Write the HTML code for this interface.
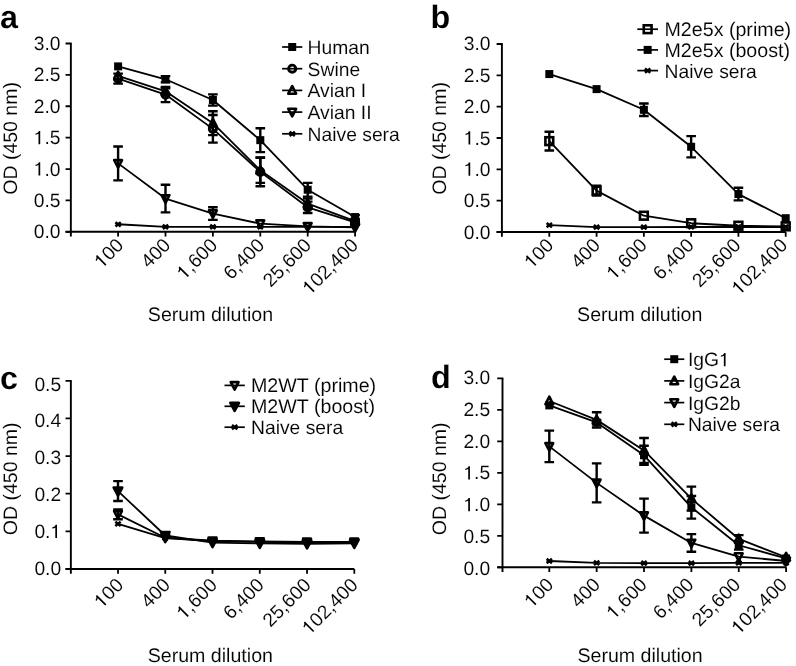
<!DOCTYPE html>
<html><head><meta charset="utf-8"><style>
html,body{margin:0;padding:0;background:#fff;width:796px;height:666px;overflow:hidden}
svg{display:block;will-change:transform}
text{font-family:"Liberation Sans",sans-serif;font-size:19.3px;fill:#000;stroke:#fff;stroke-width:0.1px;text-rendering:geometricPrecision}
</style></head><body>
<svg width="796" height="666" viewBox="0 0 796 666">
<rect width="796" height="666" fill="#fff"/>
<path d="M70.85,43.49 L70.85,236.60 M65.55,231.80 L355.10,231.80" stroke="#000" stroke-width="1.9" fill="none"/>
<text transform="translate(60.50,238.30)" text-anchor="end">0.0</text>
<text transform="translate(60.50,206.92)" text-anchor="end">0.5</text>
<g transform="translate(60.50,175.53)"><text text-anchor="end"> .0</text><path transform="translate(-26.830,0) scale(0.00942,-0.00942)" d="M515,0 L696,0 L696,1409 L548,1409 C500,1250 380,1160 197,1140 L197,1010 C340,1020 450,1060 515,1110 Z" fill="#000"/></g>
<g transform="translate(60.50,144.15)"><text text-anchor="end"> .5</text><path transform="translate(-26.830,0) scale(0.00942,-0.00942)" d="M515,0 L696,0 L696,1409 L548,1409 C500,1250 380,1160 197,1140 L197,1010 C340,1020 450,1060 515,1110 Z" fill="#000"/></g>
<text transform="translate(60.50,112.76)" text-anchor="end">2.0</text>
<text transform="translate(60.50,81.38)" text-anchor="end">2.5</text>
<text transform="translate(60.50,49.99)" text-anchor="end">3.0</text>
<path d="M65.55,231.80 L70.85,231.80 M65.55,200.42 L70.85,200.42 M65.55,169.03 L70.85,169.03 M65.55,137.65 L70.85,137.65 M65.55,106.26 L70.85,106.26 M65.55,74.88 L70.85,74.88 M65.55,43.49 L70.85,43.49 M65.55,43.49 L71.70,43.49 M118.10,231.80 L118.10,236.60 M165.50,231.80 L165.50,236.60 M212.90,231.80 L212.90,236.60 M260.30,231.80 L260.30,236.60 M307.70,231.80 L307.70,236.60 M355.10,231.80 L355.10,236.60" stroke="#000" stroke-width="1.8" fill="none"/>
<g transform="translate(124.60,246.30) rotate(-45)"><text text-anchor="end"> 00</text><path transform="translate(-32.201,0) scale(0.00942,-0.00942)" d="M515,0 L696,0 L696,1409 L548,1409 C500,1250 380,1160 197,1140 L197,1010 C340,1020 450,1060 515,1110 Z" fill="#000"/></g>
<text transform="translate(171.56,246.30) rotate(-45)" text-anchor="end">400</text>
<g transform="translate(218.52,246.30) rotate(-45)"><text text-anchor="end"> ,600</text><path transform="translate(-48.297,0) scale(0.00942,-0.00942)" d="M515,0 L696,0 L696,1409 L548,1409 C500,1250 380,1160 197,1140 L197,1010 C340,1020 450,1060 515,1110 Z" fill="#000"/></g>
<text transform="translate(265.48,246.30) rotate(-45)" text-anchor="end">6,400</text>
<text transform="translate(312.44,246.30) rotate(-45)" text-anchor="end">25,600</text>
<g transform="translate(359.40,246.30) rotate(-45)"><text text-anchor="end"> 02,400</text><path transform="translate(-69.765,0) scale(0.00942,-0.00942)" d="M515,0 L696,0 L696,1409 L548,1409 C500,1250 380,1160 197,1140 L197,1010 C340,1020 450,1060 515,1110 Z" fill="#000"/></g>
<text transform="translate(16.60,138.40) rotate(-90)" text-anchor="middle" style="font-size:19.5px">OD (450 nm)</text>
<text x="210.45" y="321.30" text-anchor="middle" style="font-size:19.6px">Serum dilution</text>
<text x="0.00" y="28.40" style="font-weight:bold;font-size:32.3px">a</text>
<path d="M118.10,66.40 L165.50,79.27 L212.90,99.98 L260.30,140.16 L307.70,189.74 L355.10,217.05" stroke="#000" stroke-width="1.8" fill="none" stroke-linejoin="round"/>
<path d="M118.10,78.64 L165.50,94.58 L212.90,128.86 L260.30,171.85 L307.70,207.32 L355.10,222.38" stroke="#000" stroke-width="1.8" fill="none" stroke-linejoin="round"/>
<path d="M118.10,75.94 L165.50,91.32 L212.90,123.21 L260.30,170.29 L307.70,203.55 L355.10,221.13" stroke="#000" stroke-width="1.8" fill="none" stroke-linejoin="round"/>
<path d="M118.10,163.38 L165.50,198.53 L212.90,213.60 L260.30,223.64 L307.70,226.46 L355.10,227.41" stroke="#000" stroke-width="1.8" fill="none" stroke-linejoin="round"/>
<path d="M118.10,224.27 L165.50,226.78 L212.90,226.78 L260.30,226.78 L307.70,226.78 L355.10,226.78" stroke="#000" stroke-width="1.8" fill="none" stroke-linejoin="round"/>
<path d="M165.50,76.13 L165.50,82.41 M160.70,76.13 L170.30,76.13 M160.70,82.41 L170.30,82.41" stroke="#000" stroke-width="2.4" fill="none"/>
<path d="M212.90,94.33 L212.90,105.63 M208.10,94.33 L217.70,94.33 M208.10,105.63 L217.70,105.63" stroke="#000" stroke-width="2.4" fill="none"/>
<path d="M260.30,128.23 L260.30,152.08 M255.50,128.23 L265.10,128.23 M255.50,152.08 L265.10,152.08" stroke="#000" stroke-width="2.4" fill="none"/>
<path d="M307.70,182.84 L307.70,196.65 M302.90,182.84 L312.50,182.84 M302.90,196.65 L312.50,196.65" stroke="#000" stroke-width="2.4" fill="none"/>
<path d="M355.10,215.17 L355.10,218.93 M350.30,215.17 L359.90,215.17 M350.30,218.93 L359.90,218.93" stroke="#000" stroke-width="2.4" fill="none"/>
<path d="M118.10,73.62 L118.10,83.66 M113.30,73.62 L122.90,73.62 M113.30,83.66 L122.90,83.66" stroke="#000" stroke-width="2.4" fill="none"/>
<path d="M165.50,87.05 L165.50,102.12 M160.70,87.05 L170.30,87.05 M160.70,102.12 L170.30,102.12" stroke="#000" stroke-width="2.4" fill="none"/>
<path d="M212.90,115.05 L212.90,142.67 M208.10,115.05 L217.70,115.05 M208.10,142.67 L217.70,142.67" stroke="#000" stroke-width="2.4" fill="none"/>
<path d="M260.30,157.42 L260.30,186.29 M255.50,157.42 L265.10,157.42 M255.50,186.29 L265.10,186.29" stroke="#000" stroke-width="2.4" fill="none"/>
<path d="M307.70,201.67 L307.70,212.97 M302.90,201.67 L312.50,201.67 M302.90,212.97 L312.50,212.97" stroke="#000" stroke-width="2.4" fill="none"/>
<path d="M355.10,219.87 L355.10,224.90 M350.30,219.87 L359.90,219.87 M350.30,224.90 L359.90,224.90" stroke="#000" stroke-width="2.4" fill="none"/>
<path d="M165.50,88.18 L165.50,94.46 M160.70,88.18 L170.30,88.18 M160.70,94.46 L170.30,94.46" stroke="#000" stroke-width="2.4" fill="none"/>
<path d="M212.90,111.28 L212.90,135.13 M208.10,111.28 L217.70,111.28 M208.10,135.13 L217.70,135.13" stroke="#000" stroke-width="2.4" fill="none"/>
<path d="M260.30,157.73 L260.30,182.84 M255.50,157.73 L265.10,157.73 M255.50,182.84 L265.10,182.84" stroke="#000" stroke-width="2.4" fill="none"/>
<path d="M307.70,198.53 L307.70,208.58 M302.90,198.53 L312.50,198.53 M302.90,208.58 L312.50,208.58" stroke="#000" stroke-width="2.4" fill="none"/>
<path d="M355.10,219.87 L355.10,222.38 M350.30,219.87 L359.90,219.87 M350.30,222.38 L359.90,222.38" stroke="#000" stroke-width="2.4" fill="none"/>
<path d="M118.10,146.43 L118.10,180.33 M113.30,146.43 L122.90,146.43 M113.30,180.33 L122.90,180.33" stroke="#000" stroke-width="2.4" fill="none"/>
<path d="M165.50,184.72 L165.50,212.34 M160.70,184.72 L170.30,184.72 M160.70,212.34 L170.30,212.34" stroke="#000" stroke-width="2.4" fill="none"/>
<path d="M212.90,207.32 L212.90,219.87 M208.10,207.32 L217.70,207.32 M208.10,219.87 L217.70,219.87" stroke="#000" stroke-width="2.4" fill="none"/>
<rect x="114.10" y="62.40" width="8.00" height="8.00" fill="#000"/>
<rect x="161.50" y="75.27" width="8.00" height="8.00" fill="#000"/>
<rect x="208.90" y="95.98" width="8.00" height="8.00" fill="#000"/>
<rect x="256.30" y="136.16" width="8.00" height="8.00" fill="#000"/>
<rect x="303.70" y="185.74" width="8.00" height="8.00" fill="#000"/>
<rect x="351.10" y="213.05" width="8.00" height="8.00" fill="#000"/>
<circle cx="118.10" cy="78.64" r="3.6" fill="none" stroke="#000" stroke-width="2.9"/>
<circle cx="165.50" cy="94.58" r="3.6" fill="none" stroke="#000" stroke-width="2.9"/>
<circle cx="212.90" cy="128.86" r="3.6" fill="none" stroke="#000" stroke-width="2.9"/>
<circle cx="260.30" cy="171.85" r="3.6" fill="none" stroke="#000" stroke-width="2.9"/>
<circle cx="307.70" cy="207.32" r="3.6" fill="none" stroke="#000" stroke-width="2.9"/>
<circle cx="355.10" cy="222.38" r="3.6" fill="none" stroke="#000" stroke-width="2.9"/>
<path d="M118.10,71.64 L122.00,79.24 L114.20,79.24 Z" fill="none" stroke="#000" stroke-width="2.6" stroke-linejoin="round"/>
<path d="M165.50,87.02 L169.40,94.62 L161.60,94.62 Z" fill="none" stroke="#000" stroke-width="2.6" stroke-linejoin="round"/>
<path d="M212.90,118.91 L216.80,126.51 L209.00,126.51 Z" fill="none" stroke="#000" stroke-width="2.6" stroke-linejoin="round"/>
<path d="M260.30,165.99 L264.20,173.59 L256.40,173.59 Z" fill="none" stroke="#000" stroke-width="2.6" stroke-linejoin="round"/>
<path d="M307.70,199.25 L311.60,206.85 L303.80,206.85 Z" fill="none" stroke="#000" stroke-width="2.6" stroke-linejoin="round"/>
<path d="M355.10,216.83 L359.00,224.43 L351.20,224.43 Z" fill="none" stroke="#000" stroke-width="2.6" stroke-linejoin="round"/>
<path d="M118.10,167.68 L122.00,160.08 L114.20,160.08 Z" fill="none" stroke="#000" stroke-width="2.6" stroke-linejoin="round"/>
<path d="M165.50,202.83 L169.40,195.23 L161.60,195.23 Z" fill="none" stroke="#000" stroke-width="2.6" stroke-linejoin="round"/>
<path d="M212.90,217.90 L216.80,210.30 L209.00,210.30 Z" fill="none" stroke="#000" stroke-width="2.6" stroke-linejoin="round"/>
<path d="M260.30,227.94 L264.20,220.34 L256.40,220.34 Z" fill="none" stroke="#000" stroke-width="2.6" stroke-linejoin="round"/>
<path d="M307.70,230.76 L311.60,223.16 L303.80,223.16 Z" fill="none" stroke="#000" stroke-width="2.6" stroke-linejoin="round"/>
<path d="M355.10,231.71 L359.00,224.11 L351.20,224.11 Z" fill="none" stroke="#000" stroke-width="2.6" stroke-linejoin="round"/>
<path d="M115.40,222.17 L120.80,226.37 M120.80,222.17 L115.40,226.37" stroke="#000" stroke-width="2.6" fill="none"/>
<path d="M162.80,224.68 L168.20,228.88 M168.20,224.68 L162.80,228.88" stroke="#000" stroke-width="2.6" fill="none"/>
<path d="M210.20,224.68 L215.60,228.88 M215.60,224.68 L210.20,228.88" stroke="#000" stroke-width="2.6" fill="none"/>
<path d="M257.60,224.68 L263.00,228.88 M263.00,224.68 L257.60,228.88" stroke="#000" stroke-width="2.6" fill="none"/>
<path d="M305.00,224.68 L310.40,228.88 M310.40,224.68 L305.00,228.88" stroke="#000" stroke-width="2.6" fill="none"/>
<path d="M352.40,224.68 L357.80,228.88 M357.80,224.68 L352.40,228.88" stroke="#000" stroke-width="2.6" fill="none"/>
<path d="M282.10,47.00 L302.30,47.00" stroke="#000" stroke-width="1.7"/>
<rect x="288.20" y="43.00" width="8.00" height="8.00" fill="#000"/>
<text transform="translate(307.60,54.00)" text-anchor="start">Human</text>
<path d="M282.10,68.70 L302.30,68.70" stroke="#000" stroke-width="1.7"/>
<circle cx="292.20" cy="68.70" r="3.6" fill="none" stroke="#000" stroke-width="2.9"/>
<text transform="translate(307.60,75.70)" text-anchor="start">Swine</text>
<path d="M282.10,90.40 L302.30,90.40" stroke="#000" stroke-width="1.7"/>
<path d="M292.20,86.10 L296.10,93.70 L288.30,93.70 Z" fill="none" stroke="#000" stroke-width="2.6" stroke-linejoin="round"/>
<text transform="translate(307.60,97.40)" text-anchor="start">Avian I</text>
<path d="M282.10,112.10 L302.30,112.10" stroke="#000" stroke-width="1.7"/>
<path d="M292.20,116.40 L296.10,108.80 L288.30,108.80 Z" fill="none" stroke="#000" stroke-width="2.6" stroke-linejoin="round"/>
<text transform="translate(307.60,119.10)" text-anchor="start">Avian II</text>
<path d="M282.10,133.80 L302.30,133.80" stroke="#000" stroke-width="1.7"/>
<path d="M289.50,131.70 L294.90,135.90 M294.90,131.70 L289.50,135.90" stroke="#000" stroke-width="2.6" fill="none"/>
<text transform="translate(307.60,140.80)" text-anchor="start">Naive sera</text>
<path d="M501.90,43.99 L501.90,236.80 M496.60,232.00 L785.70,232.00" stroke="#000" stroke-width="1.9" fill="none"/>
<text transform="translate(490.50,238.50)" text-anchor="end">0.0</text>
<text transform="translate(490.50,207.16)" text-anchor="end">0.5</text>
<g transform="translate(490.50,175.83)"><text text-anchor="end"> .0</text><path transform="translate(-26.830,0) scale(0.00942,-0.00942)" d="M515,0 L696,0 L696,1409 L548,1409 C500,1250 380,1160 197,1140 L197,1010 C340,1020 450,1060 515,1110 Z" fill="#000"/></g>
<g transform="translate(490.50,144.50)"><text text-anchor="end"> .5</text><path transform="translate(-26.830,0) scale(0.00942,-0.00942)" d="M515,0 L696,0 L696,1409 L548,1409 C500,1250 380,1160 197,1140 L197,1010 C340,1020 450,1060 515,1110 Z" fill="#000"/></g>
<text transform="translate(490.50,113.16)" text-anchor="end">2.0</text>
<text transform="translate(490.50,81.82)" text-anchor="end">2.5</text>
<text transform="translate(490.50,50.49)" text-anchor="end">3.0</text>
<path d="M496.60,232.00 L501.90,232.00 M496.60,200.66 L501.90,200.66 M496.60,169.33 L501.90,169.33 M496.60,138.00 L501.90,138.00 M496.60,106.66 L501.90,106.66 M496.60,75.32 L501.90,75.32 M496.60,43.99 L501.90,43.99 M496.60,43.99 L502.75,43.99 M549.30,232.00 L549.30,236.80 M596.58,232.00 L596.58,236.80 M643.86,232.00 L643.86,236.80 M691.14,232.00 L691.14,236.80 M738.42,232.00 L738.42,236.80 M785.70,232.00 L785.70,236.80" stroke="#000" stroke-width="1.8" fill="none"/>
<g transform="translate(554.60,246.50) rotate(-45)"><text text-anchor="end"> 00</text><path transform="translate(-32.201,0) scale(0.00942,-0.00942)" d="M515,0 L696,0 L696,1409 L548,1409 C500,1250 380,1160 197,1140 L197,1010 C340,1020 450,1060 515,1110 Z" fill="#000"/></g>
<text transform="translate(601.40,246.50) rotate(-45)" text-anchor="end">400</text>
<g transform="translate(648.20,246.50) rotate(-45)"><text text-anchor="end"> ,600</text><path transform="translate(-48.297,0) scale(0.00942,-0.00942)" d="M515,0 L696,0 L696,1409 L548,1409 C500,1250 380,1160 197,1140 L197,1010 C340,1020 450,1060 515,1110 Z" fill="#000"/></g>
<text transform="translate(695.00,246.50) rotate(-45)" text-anchor="end">6,400</text>
<text transform="translate(741.80,246.50) rotate(-45)" text-anchor="end">25,600</text>
<g transform="translate(788.60,246.50) rotate(-45)"><text text-anchor="end"> 02,400</text><path transform="translate(-69.765,0) scale(0.00942,-0.00942)" d="M515,0 L696,0 L696,1409 L548,1409 C500,1250 380,1160 197,1140 L197,1010 C340,1020 450,1060 515,1110 Z" fill="#000"/></g>
<text transform="translate(446.00,138.40) rotate(-90)" text-anchor="middle" style="font-size:19.5px">OD (450 nm)</text>
<text x="639.70" y="321.30" text-anchor="middle" style="font-size:19.6px">Serum dilution</text>
<text x="430.40" y="28.20" style="font-weight:bold;font-size:32.3px">b</text>
<path d="M549.30,74.07 L596.58,89.11 L643.86,109.79 L691.14,146.77 L738.42,194.08 L785.70,218.21" stroke="#000" stroke-width="1.8" fill="none" stroke-linejoin="round"/>
<path d="M549.30,141.13 L596.58,190.64 L643.86,215.71 L691.14,223.23 L738.42,225.73 L785.70,226.36" stroke="#000" stroke-width="1.8" fill="none" stroke-linejoin="round"/>
<path d="M549.30,225.11 L596.58,227.17 L643.86,227.17 L691.14,226.99 L738.42,226.99 L785.70,226.99" stroke="#000" stroke-width="1.8" fill="none" stroke-linejoin="round"/>
<path d="M643.86,103.53 L643.86,116.06 M639.06,103.53 L648.66,103.53 M639.06,116.06 L648.66,116.06" stroke="#000" stroke-width="2.4" fill="none"/>
<path d="M691.14,136.11 L691.14,157.42 M686.34,136.11 L695.94,136.11 M686.34,157.42 L695.94,157.42" stroke="#000" stroke-width="2.4" fill="none"/>
<path d="M738.42,187.82 L738.42,200.35 M733.62,187.82 L743.22,187.82 M733.62,200.35 L743.22,200.35" stroke="#000" stroke-width="2.4" fill="none"/>
<path d="M549.30,131.73 L549.30,150.53 M544.50,131.73 L554.10,131.73 M544.50,150.53 L554.10,150.53" stroke="#000" stroke-width="2.4" fill="none"/>
<path d="M596.58,185.62 L596.58,195.65 M591.78,185.62 L601.38,185.62 M591.78,195.65 L601.38,195.65" stroke="#000" stroke-width="2.4" fill="none"/>
<rect x="545.30" y="70.07" width="8.00" height="8.00" fill="#000"/>
<rect x="592.58" y="85.11" width="8.00" height="8.00" fill="#000"/>
<rect x="639.86" y="105.79" width="8.00" height="8.00" fill="#000"/>
<rect x="687.14" y="142.77" width="8.00" height="8.00" fill="#000"/>
<rect x="734.42" y="190.08" width="8.00" height="8.00" fill="#000"/>
<rect x="781.70" y="214.21" width="8.00" height="8.00" fill="#000"/>
<rect x="545.40" y="137.23" width="7.80" height="7.80" fill="none" stroke="#000" stroke-width="2.6"/>
<rect x="592.68" y="186.74" width="7.80" height="7.80" fill="none" stroke="#000" stroke-width="2.6"/>
<rect x="639.96" y="211.81" width="7.80" height="7.80" fill="none" stroke="#000" stroke-width="2.6"/>
<rect x="687.24" y="219.33" width="7.80" height="7.80" fill="none" stroke="#000" stroke-width="2.6"/>
<rect x="734.52" y="221.83" width="7.80" height="7.80" fill="none" stroke="#000" stroke-width="2.6"/>
<rect x="781.80" y="222.46" width="7.80" height="7.80" fill="none" stroke="#000" stroke-width="2.6"/>
<path d="M546.60,223.01 L552.00,227.21 M552.00,223.01 L546.60,227.21" stroke="#000" stroke-width="2.6" fill="none"/>
<path d="M593.88,225.07 L599.28,229.27 M599.28,225.07 L593.88,229.27" stroke="#000" stroke-width="2.6" fill="none"/>
<path d="M641.16,225.07 L646.56,229.27 M646.56,225.07 L641.16,229.27" stroke="#000" stroke-width="2.6" fill="none"/>
<path d="M688.44,224.89 L693.84,229.09 M693.84,224.89 L688.44,229.09" stroke="#000" stroke-width="2.6" fill="none"/>
<path d="M735.72,224.89 L741.12,229.09 M741.12,224.89 L735.72,229.09" stroke="#000" stroke-width="2.6" fill="none"/>
<path d="M783.00,224.89 L788.40,229.09 M788.40,224.89 L783.00,229.09" stroke="#000" stroke-width="2.6" fill="none"/>
<path d="M637.30,29.20 L658.00,29.20" stroke="#000" stroke-width="1.7"/>
<rect x="643.75" y="25.30" width="7.80" height="7.80" fill="none" stroke="#000" stroke-width="2.6"/>
<text transform="translate(664.50,36.20)" text-anchor="start" style="font-size:19.65px">M2e5x (prime)</text>
<path d="M637.30,49.90 L658.00,49.90" stroke="#000" stroke-width="1.7"/>
<rect x="643.65" y="45.90" width="8.00" height="8.00" fill="#000"/>
<text transform="translate(664.50,56.90)" text-anchor="start" style="font-size:19.65px">M2e5x (boost)</text>
<path d="M637.30,70.60 L658.00,70.60" stroke="#000" stroke-width="1.7"/>
<path d="M644.95,68.50 L650.35,72.70 M650.35,68.50 L644.95,72.70" stroke="#000" stroke-width="2.6" fill="none"/>
<text transform="translate(664.50,77.60)" text-anchor="start">Naive sera</text>
<path d="M70.85,380.80 L70.85,573.80 M65.55,569.00 L354.30,569.00" stroke="#000" stroke-width="1.9" fill="none"/>
<text transform="translate(61.20,575.00)" text-anchor="end">0.0</text>
<g transform="translate(61.20,538.10)"><text text-anchor="end">0. </text><path transform="translate(-10.734,0) scale(0.00942,-0.00942)" d="M515,0 L696,0 L696,1409 L548,1409 C500,1250 380,1160 197,1140 L197,1010 C340,1020 450,1060 515,1110 Z" fill="#000"/></g>
<text transform="translate(61.20,501.20)" text-anchor="end">0.2</text>
<text transform="translate(61.20,464.30)" text-anchor="end">0.3</text>
<text transform="translate(61.20,427.40)" text-anchor="end">0.4</text>
<text transform="translate(61.20,390.50)" text-anchor="end">0.5</text>
<path d="M65.55,569.00 L70.85,569.00 M65.55,531.36 L70.85,531.36 M65.55,493.72 L70.85,493.72 M65.55,456.08 L70.85,456.08 M65.55,418.44 L70.85,418.44 M65.55,380.80 L70.85,380.80 M65.55,380.80 L71.70,380.80 M118.00,569.00 L118.00,573.80 M165.26,569.00 L165.26,573.80 M212.52,569.00 L212.52,573.80 M259.78,569.00 L259.78,573.80 M307.04,569.00 L307.04,573.80 M354.30,569.00 L354.30,573.80" stroke="#000" stroke-width="1.8" fill="none"/>
<g transform="translate(124.50,586.20) rotate(-45)"><text text-anchor="end"> 00</text><path transform="translate(-32.201,0) scale(0.00942,-0.00942)" d="M515,0 L696,0 L696,1409 L548,1409 C500,1250 380,1160 197,1140 L197,1010 C340,1020 450,1060 515,1110 Z" fill="#000"/></g>
<text transform="translate(171.40,586.20) rotate(-45)" text-anchor="end">400</text>
<g transform="translate(218.30,586.20) rotate(-45)"><text text-anchor="end"> ,600</text><path transform="translate(-48.297,0) scale(0.00942,-0.00942)" d="M515,0 L696,0 L696,1409 L548,1409 C500,1250 380,1160 197,1140 L197,1010 C340,1020 450,1060 515,1110 Z" fill="#000"/></g>
<text transform="translate(265.20,586.20) rotate(-45)" text-anchor="end">6,400</text>
<text transform="translate(312.10,586.20) rotate(-45)" text-anchor="end">25,600</text>
<g transform="translate(359.00,586.20) rotate(-45)"><text text-anchor="end"> 02,400</text><path transform="translate(-69.765,0) scale(0.00942,-0.00942)" d="M515,0 L696,0 L696,1409 L548,1409 C500,1250 380,1160 197,1140 L197,1010 C340,1020 450,1060 515,1110 Z" fill="#000"/></g>
<text transform="translate(16.60,478.80) rotate(-90)" text-anchor="middle" style="font-size:19.5px">OD (450 nm)</text>
<text x="210.35" y="661.70" text-anchor="middle" style="font-size:19.6px">Serum dilution</text>
<text x="0.00" y="388.60" style="font-weight:bold;font-size:32.3px">c</text>
<path d="M118.00,514.42 L165.26,537.76 L212.52,540.77 L259.78,541.52 L307.04,541.90 L354.30,541.90" stroke="#000" stroke-width="1.8" fill="none" stroke-linejoin="round"/>
<path d="M118.00,491.09 L165.26,535.50 L212.52,542.65 L259.78,543.40 L307.04,543.78 L354.30,543.40" stroke="#000" stroke-width="1.8" fill="none" stroke-linejoin="round"/>
<path d="M118.00,523.83 L165.26,538.14 L212.52,541.15 L259.78,541.90 L307.04,542.65 L354.30,542.65" stroke="#000" stroke-width="1.8" fill="none" stroke-linejoin="round"/>
<path d="M118.00,509.53 L118.00,519.32 M113.20,509.53 L122.80,509.53 M113.20,519.32 L122.80,519.32" stroke="#000" stroke-width="2.4" fill="none"/>
<path d="M118.00,481.11 L118.00,501.06 M113.20,481.11 L122.80,481.11 M113.20,501.06 L122.80,501.06" stroke="#000" stroke-width="2.4" fill="none"/>
<path d="M118.00,518.72 L121.90,511.12 L114.10,511.12 Z" fill="none" stroke="#000" stroke-width="2.6" stroke-linejoin="round"/>
<path d="M165.26,542.06 L169.16,534.46 L161.36,534.46 Z" fill="none" stroke="#000" stroke-width="2.6" stroke-linejoin="round"/>
<path d="M212.52,545.07 L216.42,537.47 L208.62,537.47 Z" fill="none" stroke="#000" stroke-width="2.6" stroke-linejoin="round"/>
<path d="M259.78,545.82 L263.68,538.22 L255.88,538.22 Z" fill="none" stroke="#000" stroke-width="2.6" stroke-linejoin="round"/>
<path d="M307.04,546.20 L310.94,538.60 L303.14,538.60 Z" fill="none" stroke="#000" stroke-width="2.6" stroke-linejoin="round"/>
<path d="M354.30,546.20 L358.20,538.60 L350.40,538.60 Z" fill="none" stroke="#000" stroke-width="2.6" stroke-linejoin="round"/>
<path d="M118.00,495.69 L122.30,487.59 L113.70,487.59 Z" fill="#000" stroke="#000" stroke-width="2.6" stroke-linejoin="round"/>
<path d="M165.26,540.10 L169.56,532.00 L160.96,532.00 Z" fill="#000" stroke="#000" stroke-width="2.6" stroke-linejoin="round"/>
<path d="M212.52,547.25 L216.82,539.15 L208.22,539.15 Z" fill="#000" stroke="#000" stroke-width="2.6" stroke-linejoin="round"/>
<path d="M259.78,548.00 L264.08,539.90 L255.48,539.90 Z" fill="#000" stroke="#000" stroke-width="2.6" stroke-linejoin="round"/>
<path d="M307.04,548.38 L311.34,540.28 L302.74,540.28 Z" fill="#000" stroke="#000" stroke-width="2.6" stroke-linejoin="round"/>
<path d="M354.30,548.00 L358.60,539.90 L350.00,539.90 Z" fill="#000" stroke="#000" stroke-width="2.6" stroke-linejoin="round"/>
<path d="M115.30,521.73 L120.70,525.93 M120.70,521.73 L115.30,525.93" stroke="#000" stroke-width="2.6" fill="none"/>
<path d="M162.56,536.04 L167.96,540.24 M167.96,536.04 L162.56,540.24" stroke="#000" stroke-width="2.6" fill="none"/>
<path d="M209.82,539.05 L215.22,543.25 M215.22,539.05 L209.82,543.25" stroke="#000" stroke-width="2.6" fill="none"/>
<path d="M257.08,539.80 L262.48,544.00 M262.48,539.80 L257.08,544.00" stroke="#000" stroke-width="2.6" fill="none"/>
<path d="M304.34,540.55 L309.74,544.75 M309.74,540.55 L304.34,544.75" stroke="#000" stroke-width="2.6" fill="none"/>
<path d="M351.60,540.55 L357.00,544.75 M357.00,540.55 L351.60,544.75" stroke="#000" stroke-width="2.6" fill="none"/>
<path d="M224.50,385.40 L244.80,385.40" stroke="#000" stroke-width="1.7"/>
<path d="M234.65,389.70 L238.55,382.10 L230.75,382.10 Z" fill="none" stroke="#000" stroke-width="2.6" stroke-linejoin="round"/>
<text transform="translate(251.00,392.40)" text-anchor="start" style="font-size:19.65px">M2WT (prime)</text>
<path d="M224.50,406.30 L244.80,406.30" stroke="#000" stroke-width="1.7"/>
<path d="M234.65,410.90 L238.95,402.80 L230.35,402.80 Z" fill="#000" stroke="#000" stroke-width="2.6" stroke-linejoin="round"/>
<text transform="translate(251.00,413.30)" text-anchor="start" style="font-size:19.65px">M2WT (boost)</text>
<path d="M224.50,427.20 L244.80,427.20" stroke="#000" stroke-width="1.7"/>
<path d="M231.95,425.10 L237.35,429.30 M237.35,425.10 L231.95,429.30" stroke="#000" stroke-width="2.6" fill="none"/>
<text transform="translate(251.00,434.20)" text-anchor="start">Naive sera</text>
<path d="M502.50,378.30 L502.50,572.10 M497.20,567.30 L786.10,567.30" stroke="#000" stroke-width="1.9" fill="none"/>
<text transform="translate(490.20,574.60)" text-anchor="end">0.0</text>
<text transform="translate(490.20,542.88)" text-anchor="end">0.5</text>
<g transform="translate(490.20,511.16)"><text text-anchor="end"> .0</text><path transform="translate(-26.830,0) scale(0.00942,-0.00942)" d="M515,0 L696,0 L696,1409 L548,1409 C500,1250 380,1160 197,1140 L197,1010 C340,1020 450,1060 515,1110 Z" fill="#000"/></g>
<g transform="translate(490.20,479.44)"><text text-anchor="end"> .5</text><path transform="translate(-26.830,0) scale(0.00942,-0.00942)" d="M515,0 L696,0 L696,1409 L548,1409 C500,1250 380,1160 197,1140 L197,1010 C340,1020 450,1060 515,1110 Z" fill="#000"/></g>
<text transform="translate(490.20,447.72)" text-anchor="end">2.0</text>
<text transform="translate(490.20,416.00)" text-anchor="end">2.5</text>
<text transform="translate(490.20,384.28)" text-anchor="end">3.0</text>
<path d="M497.20,567.30 L502.50,567.30 M497.20,535.80 L502.50,535.80 M497.20,504.30 L502.50,504.30 M497.20,472.80 L502.50,472.80 M497.20,441.30 L502.50,441.30 M497.20,409.80 L502.50,409.80 M497.20,378.30 L502.50,378.30 M497.20,378.30 L503.35,378.30 M549.30,567.30 L549.30,572.10 M596.66,567.30 L596.66,572.10 M644.02,567.30 L644.02,572.10 M691.38,567.30 L691.38,572.10 M738.74,567.30 L738.74,572.10 M786.10,567.30 L786.10,572.10" stroke="#000" stroke-width="1.8" fill="none"/>
<g transform="translate(554.60,585.90) rotate(-45)"><text text-anchor="end"> 00</text><path transform="translate(-32.201,0) scale(0.00942,-0.00942)" d="M515,0 L696,0 L696,1409 L548,1409 C500,1250 380,1160 197,1140 L197,1010 C340,1020 450,1060 515,1110 Z" fill="#000"/></g>
<text transform="translate(601.34,585.90) rotate(-45)" text-anchor="end">400</text>
<g transform="translate(648.08,585.90) rotate(-45)"><text text-anchor="end"> ,600</text><path transform="translate(-48.297,0) scale(0.00942,-0.00942)" d="M515,0 L696,0 L696,1409 L548,1409 C500,1250 380,1160 197,1140 L197,1010 C340,1020 450,1060 515,1110 Z" fill="#000"/></g>
<text transform="translate(694.82,585.90) rotate(-45)" text-anchor="end">6,400</text>
<text transform="translate(741.56,585.90) rotate(-45)" text-anchor="end">25,600</text>
<g transform="translate(788.30,585.90) rotate(-45)"><text text-anchor="end"> 02,400</text><path transform="translate(-69.765,0) scale(0.00942,-0.00942)" d="M515,0 L696,0 L696,1409 L548,1409 C500,1250 380,1160 197,1140 L197,1010 C340,1020 450,1060 515,1110 Z" fill="#000"/></g>
<text transform="translate(446.00,478.80) rotate(-90)" text-anchor="middle" style="font-size:19.5px">OD (450 nm)</text>
<text x="640.05" y="662.20" text-anchor="middle" style="font-size:19.6px">Serum dilution</text>
<text x="431.00" y="388.20" style="font-weight:bold;font-size:32.3px">d</text>
<path d="M549.30,405.39 L596.66,422.40 L644.02,455.29 L691.38,507.32 L738.74,545.25 L786.10,558.48" stroke="#000" stroke-width="1.8" fill="none" stroke-linejoin="round"/>
<path d="M549.30,400.98 L596.66,419.88 L644.02,450.43 L691.38,498.63 L738.74,538.95 L786.10,557.22" stroke="#000" stroke-width="1.8" fill="none" stroke-linejoin="round"/>
<path d="M549.30,446.34 L596.66,482.88 L644.02,515.64 L691.38,542.98 L738.74,556.59 L786.10,561.00" stroke="#000" stroke-width="1.8" fill="none" stroke-linejoin="round"/>
<path d="M549.30,561.00 L596.66,562.89 L644.02,563.20 L691.38,563.20 L738.74,562.89 L786.10,562.89" stroke="#000" stroke-width="1.8" fill="none" stroke-linejoin="round"/>
<path d="M596.66,420.51 L596.66,424.29 M591.86,420.51 L601.46,420.51 M591.86,424.29 L601.46,424.29" stroke="#000" stroke-width="2.4" fill="none"/>
<path d="M644.02,445.71 L644.02,464.86 M639.22,445.71 L648.82,445.71 M639.22,464.86 L648.82,464.86" stroke="#000" stroke-width="2.4" fill="none"/>
<path d="M691.38,495.98 L691.38,518.66 M686.58,495.98 L696.18,495.98 M686.58,518.66 L696.18,518.66" stroke="#000" stroke-width="2.4" fill="none"/>
<path d="M738.74,540.84 L738.74,549.66 M733.94,540.84 L743.54,540.84 M733.94,549.66 L743.54,549.66" stroke="#000" stroke-width="2.4" fill="none"/>
<path d="M596.66,412.32 L596.66,427.44 M591.86,412.32 L601.46,412.32 M591.86,427.44 L601.46,427.44" stroke="#000" stroke-width="2.4" fill="none"/>
<path d="M644.02,438.02 L644.02,462.85 M639.22,438.02 L648.82,438.02 M639.22,462.85 L648.82,462.85" stroke="#000" stroke-width="2.4" fill="none"/>
<path d="M691.38,486.66 L691.38,510.60 M686.58,486.66 L696.18,486.66 M686.58,510.60 L696.18,510.60" stroke="#000" stroke-width="2.4" fill="none"/>
<path d="M738.74,535.17 L738.74,542.73 M733.94,535.17 L743.54,535.17 M733.94,542.73 L743.54,542.73" stroke="#000" stroke-width="2.4" fill="none"/>
<path d="M549.30,430.59 L549.30,462.09 M544.50,430.59 L554.10,430.59 M544.50,462.09 L554.10,462.09" stroke="#000" stroke-width="2.4" fill="none"/>
<path d="M596.66,463.35 L596.66,502.41 M591.86,463.35 L601.46,463.35 M591.86,502.41 L601.46,502.41" stroke="#000" stroke-width="2.4" fill="none"/>
<path d="M644.02,498.63 L644.02,532.65 M639.22,498.63 L648.82,498.63 M639.22,532.65 L648.82,532.65" stroke="#000" stroke-width="2.4" fill="none"/>
<path d="M691.38,534.16 L691.38,551.80 M686.58,534.16 L696.18,534.16 M686.58,551.80 L696.18,551.80" stroke="#000" stroke-width="2.4" fill="none"/>
<rect x="545.30" y="401.39" width="8.00" height="8.00" fill="#000"/>
<rect x="592.66" y="418.40" width="8.00" height="8.00" fill="#000"/>
<rect x="640.02" y="451.29" width="8.00" height="8.00" fill="#000"/>
<rect x="687.38" y="503.32" width="8.00" height="8.00" fill="#000"/>
<rect x="734.74" y="541.25" width="8.00" height="8.00" fill="#000"/>
<rect x="782.10" y="554.48" width="8.00" height="8.00" fill="#000"/>
<path d="M549.30,396.68 L553.20,404.28 L545.40,404.28 Z" fill="none" stroke="#000" stroke-width="2.6" stroke-linejoin="round"/>
<path d="M596.66,415.58 L600.56,423.18 L592.76,423.18 Z" fill="none" stroke="#000" stroke-width="2.6" stroke-linejoin="round"/>
<path d="M644.02,446.13 L647.92,453.73 L640.12,453.73 Z" fill="none" stroke="#000" stroke-width="2.6" stroke-linejoin="round"/>
<path d="M691.38,494.33 L695.28,501.93 L687.48,501.93 Z" fill="none" stroke="#000" stroke-width="2.6" stroke-linejoin="round"/>
<path d="M738.74,534.65 L742.64,542.25 L734.84,542.25 Z" fill="none" stroke="#000" stroke-width="2.6" stroke-linejoin="round"/>
<path d="M786.10,552.92 L790.00,560.52 L782.20,560.52 Z" fill="none" stroke="#000" stroke-width="2.6" stroke-linejoin="round"/>
<path d="M549.30,450.64 L553.20,443.04 L545.40,443.04 Z" fill="none" stroke="#000" stroke-width="2.6" stroke-linejoin="round"/>
<path d="M596.66,487.18 L600.56,479.58 L592.76,479.58 Z" fill="none" stroke="#000" stroke-width="2.6" stroke-linejoin="round"/>
<path d="M644.02,519.94 L647.92,512.34 L640.12,512.34 Z" fill="none" stroke="#000" stroke-width="2.6" stroke-linejoin="round"/>
<path d="M691.38,547.28 L695.28,539.68 L687.48,539.68 Z" fill="none" stroke="#000" stroke-width="2.6" stroke-linejoin="round"/>
<path d="M738.74,560.89 L742.64,553.29 L734.84,553.29 Z" fill="none" stroke="#000" stroke-width="2.6" stroke-linejoin="round"/>
<path d="M786.10,565.30 L790.00,557.70 L782.20,557.70 Z" fill="none" stroke="#000" stroke-width="2.6" stroke-linejoin="round"/>
<path d="M546.60,558.90 L552.00,563.10 M552.00,558.90 L546.60,563.10" stroke="#000" stroke-width="2.6" fill="none"/>
<path d="M593.96,560.79 L599.36,564.99 M599.36,560.79 L593.96,564.99" stroke="#000" stroke-width="2.6" fill="none"/>
<path d="M641.32,561.10 L646.72,565.30 M646.72,561.10 L641.32,565.30" stroke="#000" stroke-width="2.6" fill="none"/>
<path d="M688.68,561.10 L694.08,565.30 M694.08,561.10 L688.68,565.30" stroke="#000" stroke-width="2.6" fill="none"/>
<path d="M736.04,560.79 L741.44,564.99 M741.44,560.79 L736.04,564.99" stroke="#000" stroke-width="2.6" fill="none"/>
<path d="M783.40,560.79 L788.80,564.99 M788.80,560.79 L783.40,564.99" stroke="#000" stroke-width="2.6" fill="none"/>
<path d="M664.20,359.20 L684.30,359.20" stroke="#000" stroke-width="1.7"/>
<rect x="670.25" y="355.20" width="8.00" height="8.00" fill="#000"/>
<g transform="translate(687.90,366.20)"><text text-anchor="start">IgG </text><path transform="translate(31.108,0) scale(0.00942,-0.00942)" d="M515,0 L696,0 L696,1409 L548,1409 C500,1250 380,1160 197,1140 L197,1010 C340,1020 450,1060 515,1110 Z" fill="#000"/></g>
<path d="M664.20,380.90 L684.30,380.90" stroke="#000" stroke-width="1.7"/>
<path d="M674.25,376.60 L678.15,384.20 L670.35,384.20 Z" fill="none" stroke="#000" stroke-width="2.6" stroke-linejoin="round"/>
<text transform="translate(687.90,387.90)" text-anchor="start">IgG2a</text>
<path d="M664.20,402.60 L684.30,402.60" stroke="#000" stroke-width="1.7"/>
<path d="M674.25,406.90 L678.15,399.30 L670.35,399.30 Z" fill="none" stroke="#000" stroke-width="2.6" stroke-linejoin="round"/>
<text transform="translate(687.90,409.60)" text-anchor="start">IgG2b</text>
<path d="M664.20,424.30 L684.30,424.30" stroke="#000" stroke-width="1.7"/>
<path d="M671.55,422.20 L676.95,426.40 M676.95,422.20 L671.55,426.40" stroke="#000" stroke-width="2.6" fill="none"/>
<text transform="translate(687.90,431.30)" text-anchor="start">Naive sera</text>
</svg></body></html>
